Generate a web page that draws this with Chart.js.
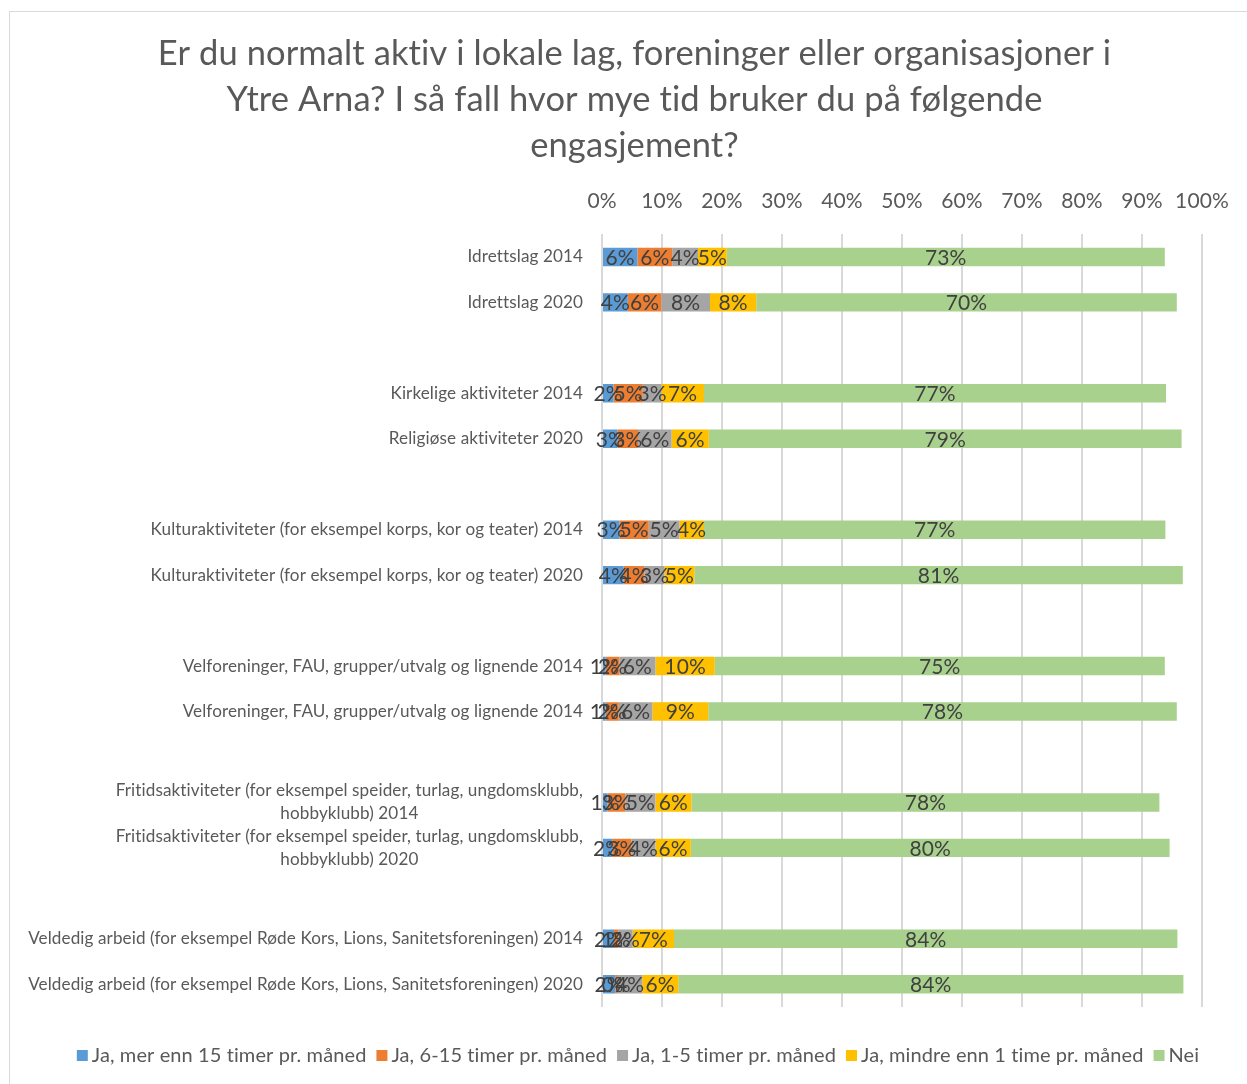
<!DOCTYPE html>
<html>
<head>
<meta charset="utf-8">
<script src="https://cdn.jsdelivr.net/npm/chart.js@4.4.1/dist/chart.umd.min.js"></script>
<style>
  html, body { margin: 0; padding: 0; background: #fff; overflow: hidden; }
  #wrap { position: relative; width: 1247px; height: 1084px; }
  #frame { position: absolute; left: 9px; top: 11px; width: 1300px; height: 1200px; border-left: 1px solid #d9d9d9; border-top: 1px solid #d9d9d9; }
  canvas { position: absolute; left: 0; top: 0; }
</style>
</head>
<body>
<div id="wrap">
  <div id="frame"></div>
  <canvas id="engasjementChart" width="1247" height="1084"></canvas>
</div>
<script>
// Engasjement i lokale lag - stacked bar chart

var titleLines = [
    'Er du normalt aktiv i lokale lag, foreninger eller organisasjoner i',
    'Ytre Arna? I så fall hvor mye tid bruker du på følgende',
    'engasjement?'
];

var categories = [
    'Idrettslag 2014',
    'Idrettslag 2020',
    '',
    'Kirkelige aktiviteter 2014',
    'Religiøse aktiviteter 2020',
    '',
    'Kulturaktiviteter (for eksempel korps, kor og teater) 2014',
    'Kulturaktiviteter (for eksempel korps, kor og teater) 2020',
    '',
    'Velforeninger, FAU, grupper/utvalg og lignende 2014',
    'Velforeninger, FAU, grupper/utvalg og lignende 2014',
    '',
    ['Fritidsaktiviteter (for eksempel speider, turlag, ungdomsklubb,', 'hobbyklubb) 2014'],
    ['Fritidsaktiviteter (for eksempel speider, turlag, ungdomsklubb,', 'hobbyklubb) 2020'],
    '',
    'Veldedig arbeid (for eksempel Røde Kors, Lions, Sanitetsforeningen) 2014',
    'Veldedig arbeid (for eksempel Røde Kors, Lions, Sanitetsforeningen) 2020'
];

var seriesNames = [
    'Ja, mer enn 15 timer pr. måned',
    'Ja, 6-15 timer pr. måned',
    'Ja, 1-5 timer pr. måned',
    'Ja, mindre enn 1 time pr. måned',
    'Nei'
];
var seriesColors = ['#5b9bd5', '#ed7d31', '#a5a5a5', '#ffc000', '#a9d18e'];

// percent of respondents
var over15   = [5.9, 4.3, null, 1.9, 2.6, null, 2.9, 3.6, null, 0.6, 0.6, null, 0.9, 1.7, null, 2.0, 2.2];
var from6to15 = [5.8, 5.6, null, 4.9, 3.4, null, 4.9, 3.5, null, 2.3, 2.2, null, 3.0, 3.2, null, 0.7, 0.3];
var from1to5 = [4.3, 8.1, null, 3.1, 5.6, null, 5.1, 3.3, null, 6.0, 5.6, null, 5.0, 4.0, null, 2.4, 4.2];
var under1   = [4.8, 7.7, null, 7.1, 6.2, null, 4.1, 5.0, null, 9.9, 9.3, null, 6.0, 5.9, null, 6.9, 6.0];
var nei      = [73.0, 70.1, null, 77.0, 78.8, null, 76.9, 81.4, null, 75.0, 78.1, null, 78.0, 79.8, null, 83.9, 84.2];

var seriesValues = [over15, from6to15, from1to5, under1, nei];

Chart.defaults.font.family = 'Lato';

// tiny letter spacing switches off Lato's "ti" ligature
var noLigatures = {
    id: 'noLigatures',
    beforeDraw: function(chart) {
        chart.ctx.letterSpacing = '0.1px';
    }
};

// percentage labels in the middle of each segment
var barLabels = {
    id: 'barLabels',
    afterDatasetsDraw: function(chart) {
        var ctx = chart.ctx;
        ctx.save();
        ctx.font = '21px Lato';
        ctx.fillStyle = '#404040';
        ctx.textAlign = 'center';
        ctx.textBaseline = 'middle';
        chart.data.datasets.forEach(function(ds, i) {
            chart.getDatasetMeta(i).data.forEach(function(bar, j) {
                var v = ds.data[j];
                if (v === null) return;
                ctx.fillText(Math.round(v) + '%', (bar.x + bar.base) / 2, bar.y + 1);
            });
        });
        ctx.restore();
    }
};

// category labels: right aligned, wrapped lines centred on each other
var categoryLabels = {
    id: 'categoryLabels',
    afterDraw: function(chart) {
        var ctx = chart.ctx;
        var yScale = chart.scales.y;
        var right = chart.chartArea.left - 19;
        var lh = 23;
        ctx.save();
        ctx.font = '17.1px Lato';
        ctx.fillStyle = '#595959';
        ctx.textBaseline = 'middle';
        categories.forEach(function(label, i) {
            var lines = [].concat(label);
            var widest = Math.max.apply(null, lines.map(function(l) { return ctx.measureText(l).width; }));
            var y = yScale.getPixelForValue(i) - (lines.length - 1) * lh / 2;
            lines.forEach(function(line, k) {
                if (lines.length > 1) {
                    ctx.textAlign = 'center';
                    ctx.fillText(line, right - widest / 2, y + k * lh);
                } else {
                    ctx.textAlign = 'right';
                    ctx.fillText(line, right, y);
                }
            });
        });
        ctx.restore();
    }
};

// legend row under the plot
var bottomLegend = {
    id: 'bottomLegend',
    afterDraw: function(chart) {
        var ctx = chart.ctx;
        ctx.save();
        ctx.font = '20px Lato';
        ctx.textBaseline = 'middle';
        ctx.textAlign = 'left';
        var items = chart.data.datasets.map(function(ds) {
            return { text: ds.label, color: ds.backgroundColor, w: ctx.measureText(ds.label).width };
        });
        var total = items.reduce(function(s, it) { return s + 11 + 4 + it.w; }, 0) + 10 * (items.length - 1);
        var x = 638 - total / 2;
        var y = chart.chartArea.bottom + 49;
        items.forEach(function(it) {
            ctx.fillStyle = it.color;
            ctx.fillRect(x, y - 6, 11, 11);
            ctx.fillStyle = '#595959';
            ctx.fillText(it.text, x + 15, y);
            x += 15 + it.w + 10;
        });
        ctx.restore();
    }
};

var datasets = seriesNames.map(function(name, i) {
    return {
        label: name,
        data: seriesValues[i],
        backgroundColor: seriesColors[i],
        borderWidth: 0
    };
});

new Chart(document.getElementById('engasjementChart'), {
    type: 'bar',
    data: {
        labels: categories,
        datasets: datasets
    },
    options: {
        indexAxis: 'y',
        responsive: false,
        animation: false,
        layout: {
            padding: { left: 22, right: 0, top: 0, bottom: 77 }
        },
        datasets: {
            bar: { categoryPercentage: 1, barPercentage: 0.405 }
        },
        plugins: {
            legend: { display: false },
            tooltip: { enabled: false },
            title: {
                display: true,
                text: titleLines,
                color: '#595959',
                font: { size: 34.5, weight: 'normal', lineHeight: 46 / 34.5 },
                padding: { top: 31, bottom: 0 }
            }
        },
        scales: {
            x: {
                position: 'top',
                stacked: true,
                min: 0,
                max: 100,
                ticks: {
                    stepSize: 10,
                    padding: 20,
                    color: '#595959',
                    font: { size: 21 },
                    callback: function(v) { return v + '%'; }
                },
                grid: { color: '#d9d9d9', lineWidth: 2, drawTicks: false },
                border: { display: false },
                afterFit: function(scale) { scale.paddingRight = 45; }
            },
            y: {
                stacked: true,
                ticks: { display: false },
                grid: { display: false },
                border: { display: false },
                afterFit: function(scale) { scale.width = 580; }
            }
        }
    },
    plugins: [noLigatures, barLabels, categoryLabels, bottomLegend]
});
</script>
</body>
</html>
